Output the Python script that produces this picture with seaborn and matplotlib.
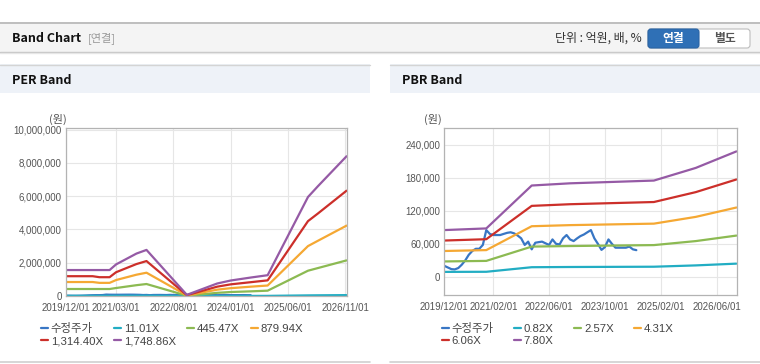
import matplotlib
matplotlib.use('Agg')
import matplotlib.pyplot as plt
import matplotlib.dates as mdates
import matplotlib.ticker as mticker
from matplotlib.patches import Rectangle, FancyBboxPatch
from matplotlib.lines import Line2D
from matplotlib.transforms import Affine2D
import pandas as pd
import seaborn as sns

# ---- data ----
price_start = '2019-12-01'
price = [20000, 17000, 14000, 13500, 16000, 22000, 30000, 40000, 47000, 51000,
         51000, 58000, 85000, 78000, 76000, 76000, 76000, 78000, 80000, 81000,
         79000, 75000, 70000, 58000, 64000, 50000, 62000, 63000, 64000, 61000,
         58000, 68000, 60000, 59000, 70000, 76000, 68000, 65000, 70000, 74000,
         77000, 81000, 85000, 70000, 60000, 49000, 54000, 68000, 60000, 53000,
         53000, 53000, 53000, 55000, 50000, 48500]

per_dates = ['2019-12-01', '2020-08-01', '2020-10-01', '2021-01-01', '2021-03-01',
             '2021-09-01', '2021-12-01', '2022-12-01', '2023-09-01', '2024-01-01',
             '2024-07-01', '2024-12-01', '2025-12-01', '2026-03-01', '2026-11-15']
per_11 = [10000, 10000, 10000, 10000, 12000, 16000, 18000, 500, 5000, 6000,
          7000, 8000, 37000, 42000, 53000]
per_445 = [420000, 420000, 420000, 420000, 480000, 650000, 720000, 18000, 190000, 240000,
           280000, 320000, 1520000, 1680000, 2140000]
per_879 = [840000, 840000, 790000, 790000, 960000, 1280000, 1400000, 35000, 380000, 470000,
           560000, 630000, 3000000, 3320000, 4230000]
per_1314 = [1190000, 1190000, 1130000, 1130000, 1430000, 1920000, 2100000, 50000, 560000, 700000,
            830000, 940000, 4500000, 4960000, 6330000]
per_1748 = [1560000, 1560000, 1560000, 1560000, 1900000, 2550000, 2770000, 70000, 750000, 930000,
            1110000, 1250000, 5950000, 6600000, 8400000]
per_labels = ['수정주가', '11.01X', '445.47X', '879.94X', '1,314.40X', '1,748.86X']
per_ticks = ['2019-12-01', '2021-03-01', '2022-08-01', '2024-01-01', '2025-06-01', '2026-11-01']

pbr_dates = ['2019-12-01', '2020-12-01', '2022-01-01', '2022-12-01', '2024-12-01',
             '2025-12-01', '2026-11-20']
pbr_082 = [9000, 9200, 17500, 17900, 18400, 20800, 24000]
pbr_257 = [28000, 29000, 55000, 56000, 57700, 65000, 75000]
pbr_431 = [47000, 48600, 92000, 94000, 96700, 109000, 126000]
pbr_606 = [66000, 68400, 129000, 132000, 136000, 154000, 177000]
pbr_780 = [85000, 88000, 166000, 170000, 175000, 198000, 228000]
pbr_labels = ['수정주가', '0.82X', '2.57X', '4.31X', '6.06X', '7.80X']
pbr_ticks = ['2019-12-01', '2021-02-01', '2022-06-01', '2023-10-01', '2025-02-01', '2026-06-01']

colors = ['#3876c4', '#22adc3', '#8cba52', '#f5a833', '#cc2f2a', '#955aa5']

sns.set_style('white')
plt.rcParams['font.family'] = ['Liberation Sans', 'Noto Sans CJK KR', 'DejaVu Sans']

W, H = 760, 364
fig = plt.figure(figsize=(W / 100, H / 100), dpi=100)
fig.patch.set_facecolor('white')
tr = Affine2D().scale(1 / W, -1 / H).translate(0, 1) + fig.transFigure
kr = ['Noto Sans CJK KR', 'DejaVu Sans']


def rect(x, y, w, h, fc, ec='none', lw=0, z=0):
    fig.add_artist(Rectangle((x, y), w, h, transform=tr, facecolor=fc,
                             edgecolor=ec, linewidth=lw, zorder=z))


def hline(x0, x1, y, c, lw=1.0):
    fig.add_artist(Line2D([x0, x1], [y, y], transform=tr, color=c, linewidth=lw))


# header bar
rect(0, 22, W, 30, '#f4f4f4')
hline(0, W, 22.5, '#b5b5b5', 1.2)
hline(0, W, 52, '#c4c4c4', 1.0)
hline(0, W, 53.2, '#e6e6e6', 1.0)
fig.text(12 / W, 1 - 38 / H, 'Band Chart', family=kr, fontsize=9, fontweight='bold',
         color='#111', va='center')
fig.text(88 / W, 1 - 38 / H, '[연결]', family=kr, fontsize=8, color='#999', va='center')
fig.text(642 / W, 1 - 38 / H, '단위 : 억원, 배, %', family=kr, fontsize=8.6, color='#333',
         va='center', ha='right')
fig.add_artist(FancyBboxPatch((648, 29), 102, 19, boxstyle='round,pad=0,rounding_size=3',
                              transform=tr, facecolor='white', edgecolor='#bdbdbd', linewidth=0.8))
fig.add_artist(FancyBboxPatch((648, 29), 51, 19, boxstyle='round,pad=0,rounding_size=3',
                              transform=tr, facecolor='#2f70b6', edgecolor='#2a64a5', linewidth=0.8))
rect(690, 29, 9, 19, '#2f70b6')
fig.text(673.5 / W, 1 - 38.5 / H, '연결', family=kr, fontsize=8.5, fontweight='bold',
         color='white', va='center', ha='center')
fig.text(724.5 / W, 1 - 38.5 / H, '별도', family=kr, fontsize=8.5, fontweight='bold',
         color='#555', va='center', ha='center')

# panel title bars
for x0, title in [(0, 'PER Band'), (390, 'PBR Band')]:
    rect(x0, 64, 370, 29, '#eef2f8')
    hline(x0, x0 + 370, 64.5, '#d4d4d4', 1.0)
    hline(x0, x0 + 370, 362, '#d0d0d0', 1.2)
    fig.text((x0 + 12) / W, 1 - 80 / H, title, family=kr, fontsize=9, fontweight='bold',
             color='#111', va='center')


def band_axes(rect_px, dates, series, labels, ticks, xmax, ylim, yticks, ylab_x, leg_x, colsp):
    l, t, r, b = rect_px
    ax = fig.add_axes([l / W, 1 - b / H, (r - l) / W, (b - t) / H])
    d = pd.to_datetime(dates)
    p_dates = pd.date_range(price_start, periods=len(price), freq='MS')
    sns.lineplot(x=p_dates, y=price, ax=ax, color=colors[0], linewidth=1.6, label=labels[0])
    for vals, c, lab in zip(series, colors[1:], labels[1:]):
        sns.lineplot(x=d, y=vals, ax=ax, color=c, linewidth=1.6, label=lab)
    ax.set_xlim(pd.Timestamp('2019-12-01'), pd.Timestamp(xmax))
    ax.set_ylim(*ylim)
    ax.set_xticks(pd.to_datetime(ticks))
    ax.set_yticks(yticks)
    ax.xaxis.set_major_formatter(mdates.DateFormatter('%Y/%m/%d'))
    ax.yaxis.set_major_formatter(mticker.StrMethodFormatter('{x:,.0f}'))
    ax.grid(True, color='#e6e6e6', linewidth=0.8)
    for s in ax.spines.values():
        s.set_color('#b3b3b3')
        s.set_linewidth(0.9)
    ax.tick_params(length=0, labelsize=7, colors='#555555')
    ax.tick_params(axis='x', pad=5)
    ax.tick_params(axis='y', pad=3)
    ax.set_xlabel('')
    ax.set_ylabel('')
    fig.text(ylab_x / W, 1 - 119 / H, '(원)', family=kr, fontsize=8, color='#555', va='center')
    h, lb = ax.get_legend_handles_labels()
    order = [0, 4, 1, 5, 2, 3]
    ax.legend([h[i] for i in order], [lb[i] for i in order], ncol=4, loc='upper left',
              bbox_to_anchor=(leg_x / W, 1 - 323 / H), bbox_transform=fig.transFigure,
              frameon=False, fontsize=8.2, handlelength=0.6, handletextpad=0.25,
              columnspacing=colsp, labelspacing=0.2, borderpad=0, borderaxespad=0,
              labelcolor='#444444')
    return ax


band_axes((65.7, 128.3, 347, 296), per_dates,
          [per_11, per_445, per_879, per_1314, per_1748], per_labels, per_ticks,
          '2026-11-19', (0, 10.08e6), range(0, 10000001, 2000000), 49, 41, 1.0)
band_axes((444.3, 128.3, 737.3, 295), pbr_dates,
          [pbr_082, pbr_257, pbr_431, pbr_606, pbr_780], pbr_labels, pbr_ticks,
          '2026-11-28', (-33000, 270000), range(0, 240001, 60000), 424, 442, 1.8)

fig.savefig('out.png', dpi=100)
